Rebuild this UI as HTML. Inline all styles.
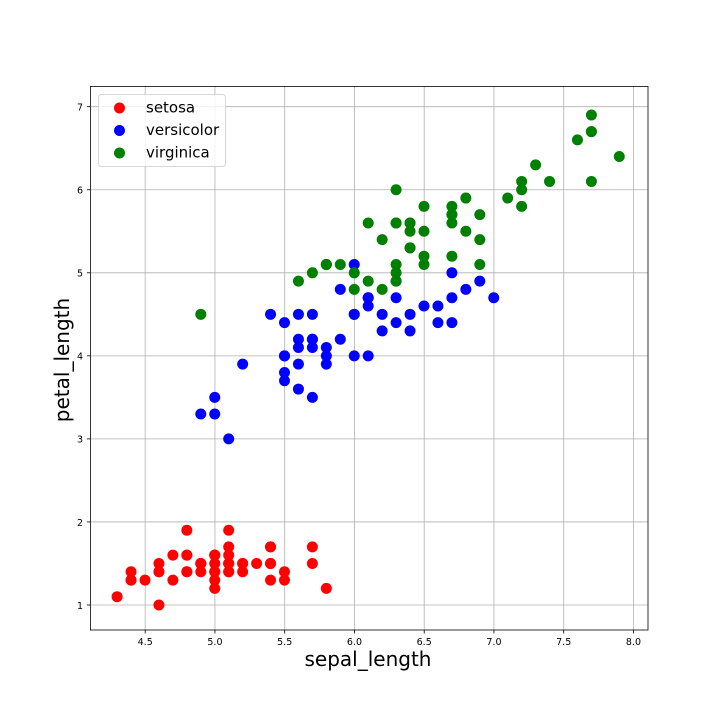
<!DOCTYPE html>
<html>
<head>
<meta charset="utf-8">
<title>Iris scatter</title>
<style>
html,body{margin:0;padding:0;background:#fff;}
svg{display:block;}
text{font-family:"DejaVu Sans",sans-serif;fill:#000;}
</style>
</head>
<body>
<svg id="chart" xmlns="http://www.w3.org/2000/svg" width="720" height="720" viewBox="0 0 720 720">
<rect x="0" y="0" width="720" height="720" fill="#fff"/>
<g id="grid"></g>
<g id="points"></g>
<rect x="90.4" y="86.4" width="557.6" height="543.6" fill="none" stroke="#000" stroke-width="0.8"/>
<g id="ticks"></g>
<text x="368" y="666" font-size="20" text-anchor="middle">sepal_length</text>
<text x="0" y="0" font-size="20" text-anchor="middle" transform="translate(69,360) rotate(-90)">petal_length</text>
<g id="legend"></g>
</svg>
<script>
var speciesNames = ["setosa", "versicolor", "virginica"];
var speciesColors = ["#ff0000", "#0000ff", "#008000"];
var xTickLabels = ["4.5","5.0","5.5","6.0","6.5","7.0","7.5","8.0"];
var yTickLabels = ["1","2","3","4","5","6","7"];

var setosaSepal = [5.1,4.9,4.7,4.6,5.0,5.4,4.6,5.0,4.4,4.9,5.4,4.8,4.8,4.3,5.8,5.7,5.4,5.1,5.7,5.1,5.4,5.1,4.6,5.1,4.8,5.0,5.0,5.2,5.2,4.7,4.8,5.4,5.2,5.5,4.9,5.0,5.5,4.9,4.4,5.1,5.0,4.5,4.4,5.0,5.1,4.8,5.1,4.6,5.3,5.0];
var setosaPetal = [1.4,1.4,1.3,1.5,1.4,1.7,1.4,1.5,1.4,1.5,1.5,1.6,1.4,1.1,1.2,1.5,1.3,1.4,1.7,1.5,1.7,1.5,1.0,1.7,1.9,1.6,1.6,1.5,1.4,1.6,1.6,1.5,1.5,1.4,1.5,1.2,1.3,1.5,1.3,1.5,1.3,1.3,1.3,1.6,1.9,1.4,1.6,1.4,1.5,1.4];
var versicolorSepal = [7.0,6.4,6.9,5.5,6.5,5.7,6.3,4.9,6.6,5.2,5.0,5.9,6.0,6.1,5.6,6.7,5.6,5.8,6.2,5.6,5.9,6.1,6.3,6.1,6.4,6.6,6.8,6.7,6.0,5.7,5.5,5.5,5.8,6.0,5.4,6.0,6.7,6.3,5.6,5.5,5.5,6.1,5.8,5.0,5.6,5.7,5.7,6.2,5.1,5.7];
var versicolorPetal = [4.7,4.5,4.9,4.0,4.6,4.5,4.7,3.3,4.6,3.9,3.5,4.2,4.0,4.7,3.6,4.4,4.5,4.1,4.5,3.9,4.8,4.0,4.9,4.7,4.3,4.4,4.8,5.0,4.5,3.5,3.8,3.7,3.9,5.1,4.5,4.5,4.7,4.4,4.1,4.0,4.4,4.6,4.0,3.3,4.2,4.2,4.2,4.3,3.0,4.1];
var virginicaSepal = [6.3,5.8,7.1,6.3,6.5,7.6,4.9,7.3,6.7,7.2,6.5,6.4,6.8,5.7,5.8,6.4,6.5,7.7,7.7,6.0,6.9,5.6,7.7,6.3,6.7,7.2,6.2,6.1,6.4,7.2,7.4,7.9,6.4,6.3,6.1,7.7,6.3,6.4,6.0,6.9,6.7,6.9,5.8,6.8,6.7,6.7,6.3,6.5,6.2,5.9];
var virginicaPetal = [6.0,5.1,5.9,5.6,5.8,6.6,4.5,6.3,5.8,6.1,5.1,5.3,5.5,5.0,5.1,5.3,5.5,6.7,6.9,5.0,5.7,4.9,6.7,4.9,5.7,6.0,4.8,4.9,5.6,5.8,6.1,6.4,5.6,5.1,5.6,6.1,5.6,5.5,4.8,5.4,5.6,5.1,5.1,5.9,5.7,5.2,5.0,5.2,5.4,5.1];

var NS = "http://www.w3.org/2000/svg";
var PLOT_LEFT = 90.4, PLOT_RIGHT = 648, PLOT_TOP = 86.4, PLOT_BOTTOM = 630;

function xScale(v) { return 145.2 + (v - 4.5) * 139.5; }
function yScale(v) { return 605 - (v - 1) * 83.05; }

function make(tag, attrs, parent) {
  var el = document.createElementNS(NS, tag);
  for (var k in attrs) { el.setAttribute(k, attrs[k]); }
  parent.appendChild(el);
  return el;
}

var gridGroup = document.getElementById("grid");
var tickGroup = document.getElementById("ticks");
var pointGroup = document.getElementById("points");
var legendGroup = document.getElementById("legend");

xTickLabels.forEach(function (label) {
  var x = xScale(parseFloat(label));
  var g = make("line", {x1: x, x2: x, y1: PLOT_TOP, y2: PLOT_BOTTOM, stroke: "#b0b0b0", "stroke-width": 0.8}, gridGroup);
  
  
  var t = make("line", {x1: x, x2: x, y1: PLOT_BOTTOM, y2: PLOT_BOTTOM + 3.5, stroke: "#000", "stroke-width": 0.8}, tickGroup);
  
  
  var l = make("text", {x: x, y: 645, "font-size": 9.5, "text-anchor": "middle"}, tickGroup);
  
  
  l.textContent = label;
});

yTickLabels.forEach(function (label) {
  var y = yScale(parseFloat(label));
  var g = make("line", {x1: PLOT_LEFT, x2: PLOT_RIGHT, y1: y, y2: y, stroke: "#b0b0b0", "stroke-width": 0.8}, gridGroup);
  
  
  var t = make("line", {x1: PLOT_LEFT - 3.5, x2: PLOT_LEFT, y1: y, y2: y, stroke: "#000", "stroke-width": 0.8}, tickGroup);
  
  
  var l = make("text", {x: 83, y: y + 3.8, "font-size": 9.5, "text-anchor": "end"}, tickGroup);
  
  
  l.textContent = label;
});

var seriesSepal = [setosaSepal, versicolorSepal, virginicaSepal];
var seriesPetal = [setosaPetal, versicolorPetal, virginicaPetal];

speciesNames.forEach(function (name, s) {
  seriesSepal[s].forEach(function (sepal, i) {
    var c = make("circle", {cx: xScale(sepal) - 0.2, cy: yScale(seriesPetal[s][i]), r: 5.5, fill: speciesColors[s]}, pointGroup);
    
    
  });
});

var box = make("rect", {x: 98.5, y: 94.5, width: 127, height: 72, rx: 3, ry: 3, fill: "#fff", "fill-opacity": 0.8, stroke: "#cccccc", "stroke-opacity": 0.8, "stroke-width": 1}, legendGroup);



speciesNames.forEach(function (name, s) {
  var rowY = 108 + s * 22.5;
  var m = make("circle", {cx: 119.5, cy: rowY, r: 5.5, fill: speciesColors[s]}, legendGroup);
  
  
  var t = make("text", {x: 146, y: rowY + 4.5, "font-size": 15}, legendGroup);
  
  
  t.textContent = name;
});
</script>
</body>
</html>
